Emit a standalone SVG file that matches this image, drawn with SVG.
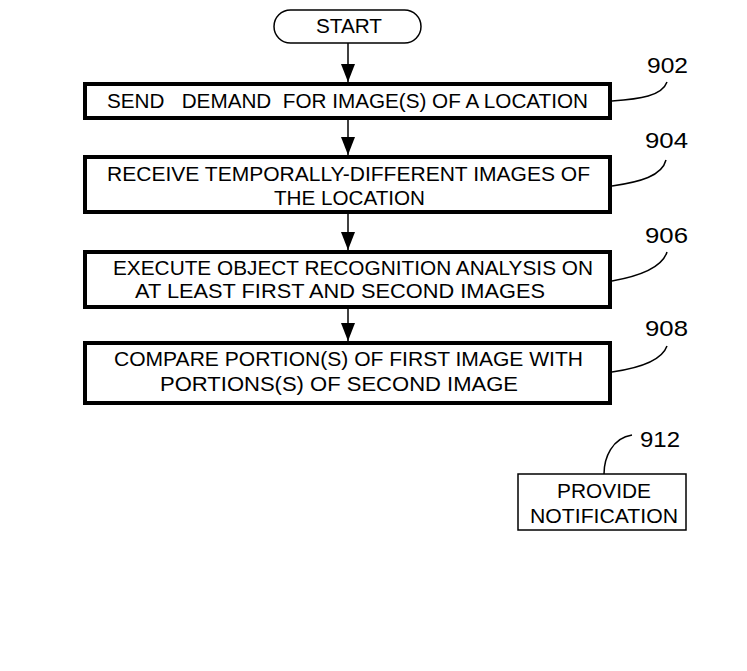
<svg xmlns="http://www.w3.org/2000/svg" width="747" height="671" viewBox="0 0 747 671">
<style>
.box{fill:#fff;stroke:#000;stroke-width:4}
.thin{fill:#fff;stroke:#000;stroke-width:1.5}
.t{font-family:"Liberation Sans",Arial,sans-serif;font-size:20px;fill:#000}
.lbl{font-family:"Liberation Sans",Arial,sans-serif;font-size:22px;fill:#000}
.ln{fill:none;stroke:#000;stroke-width:1.5}
</style>
<defs>
<marker id="ah" viewBox="0 0 18 14" refX="18" refY="7" markerWidth="18" markerHeight="14" markerUnits="userSpaceOnUse" orient="auto">
<path d="M0,0 L18,7 L0,14 Z" fill="#000"/>
</marker>
</defs>
<rect width="747" height="671" fill="#fff"/>
<g id="connectors">
<line class="ln" x1="348" y1="43" x2="348" y2="82" marker-end="url(#ah)"/>
<line class="ln" x1="348" y1="120" x2="348" y2="155" marker-end="url(#ah)"/>
<line class="ln" x1="348" y1="214" x2="348" y2="250" marker-end="url(#ah)"/>
<line class="ln" x1="348" y1="309" x2="348" y2="341" marker-end="url(#ah)"/>
<path class="ln" d="M612,101 C640,99 662,96 667,82"/>
<path class="ln" d="M612,186 C640,182 662,176 666,160"/>
<path class="ln" d="M612,281 C640,276 662,268 667,252"/>
<path class="ln" d="M612,372 C640,368 662,360 667,346"/>
<path class="ln" d="M604,474 C604,458 612,438 632,435"/>
</g>
<g id="start">
<rect x="274" y="10" width="147" height="33" rx="16.5" ry="16.5" class="thin"/>
<text class="t" x="349" y="33" text-anchor="middle" textLength="66" lengthAdjust="spacingAndGlyphs">START</text>
</g>
<g id="n902">
<rect x="85" y="84" width="525" height="34" class="box"/>
<text class="t" x="107" y="108" textLength="481" lengthAdjust="spacingAndGlyphs" xml:space="preserve">SEND   DEMAND  FOR IMAGE(S) OF A LOCATION</text>
<text class="lbl" x="647" y="73" textLength="41" lengthAdjust="spacingAndGlyphs">902</text>
</g>
<g id="n904">
<rect x="85" y="157" width="525" height="55" class="box"/>
<text class="t" x="107" y="181" textLength="483" lengthAdjust="spacingAndGlyphs">RECEIVE TEMPORALLY-DIFFERENT IMAGES OF</text>
<text class="t" x="274" y="205" textLength="151" lengthAdjust="spacingAndGlyphs">THE LOCATION</text>
<text class="lbl" x="645" y="148" textLength="43" lengthAdjust="spacingAndGlyphs">904</text>
</g>
<g id="n906">
<rect x="85" y="252" width="525" height="55" class="box"/>
<text class="t" x="113" y="275" textLength="480" lengthAdjust="spacingAndGlyphs">EXECUTE OBJECT RECOGNITION ANALYSIS ON</text>
<text class="t" x="135" y="298" textLength="410" lengthAdjust="spacingAndGlyphs">AT LEAST FIRST AND SECOND IMAGES</text>
<text class="lbl" x="645" y="243" textLength="43" lengthAdjust="spacingAndGlyphs">906</text>
</g>
<g id="n908">
<rect x="85" y="343" width="525" height="60" class="box"/>
<text class="t" x="114" y="366" textLength="469" lengthAdjust="spacingAndGlyphs">COMPARE PORTION(S) OF FIRST IMAGE WITH</text>
<text class="t" x="160" y="391" textLength="358" lengthAdjust="spacingAndGlyphs">PORTIONS(S) OF SECOND IMAGE</text>
<text class="lbl" x="645" y="336" textLength="43" lengthAdjust="spacingAndGlyphs">908</text>
</g>
<g id="n912">
<rect x="518" y="474" width="168" height="56" class="thin"/>
<text class="t" x="557" y="498" textLength="94" lengthAdjust="spacingAndGlyphs">PROVIDE</text>
<text class="t" x="530" y="523" textLength="148" lengthAdjust="spacingAndGlyphs">NOTIFICATION</text>
<text class="lbl" x="640" y="447" textLength="40" lengthAdjust="spacingAndGlyphs">912</text>
</g>
</svg>
